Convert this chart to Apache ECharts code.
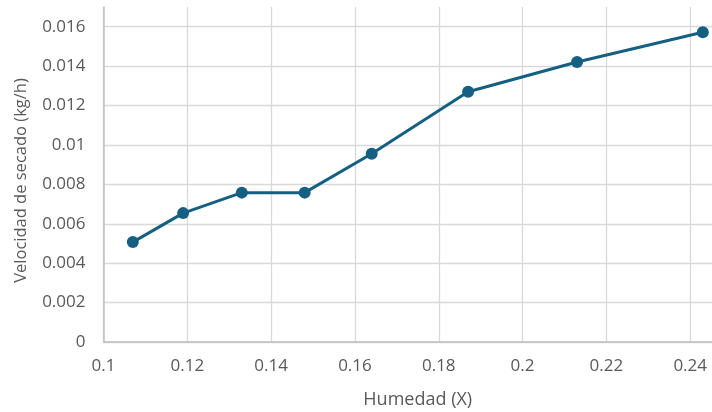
<!DOCTYPE html>
<html>
<head>
<meta charset="utf-8">
<script src="https://cdn.jsdelivr.net/npm/echarts@6/dist/echarts.min.js"></script>
<style>
  html, body { margin: 0; padding: 0; background: #ffffff; }
  #chart { width: 712px; height: 412px; }
</style>
</head>
<body>
<div id="chart"></div>
<script>
// Moisture content (X) and drying rate (kg/h)
const humedad = [0.107, 0.119, 0.133, 0.148, 0.164, 0.187, 0.213, 0.243];
const velocidad = [0.00507, 0.00654, 0.00758, 0.00758, 0.00955, 0.0127, 0.01421, 0.01572];

const xTicks = { min: 0.1, max: 0.2452, step: 0.02 };
const yTicks = { min: 0, max: 0.017, step: 0.002 };

const xTitle = 'Humedad (X)';
const yTitle = 'Velocidad de secado (kg/h)';

const textColor = '#595959';
const fontFamily = '"Open Sans", "Liberation Sans", sans-serif';

const points = humedad.map((x, i) => [x, velocidad[i]]);

const chart = echarts.init(document.getElementById('chart'));
chart.setOption({
  animation: false,
  grid: { left: 103.5, right: 0, top: 7, bottom: 70, containLabel: false, outerBoundsMode: 'none' },
  xAxis: {
    type: 'value',
    min: xTicks.min,
    max: xTicks.max,
    interval: xTicks.step,
    name: xTitle,
    nameLocation: 'middle',
    nameGap: 49,
    nameTextStyle: { color: textColor, fontSize: 18, fontFamily: fontFamily, padding: [0, 0, 0, 20] },
    axisLine: { show: true, lineStyle: { color: '#bfbfbf', width: 1.5 } },
    axisTick: { show: false },
    axisLabel: {
      color: textColor, fontSize: 17, fontFamily: fontFamily, margin: 16,
      showMaxLabel: false,
      formatter: v => String(parseFloat(v.toFixed(4)))
    },
    splitLine: { show: true, showMaxLine: false, lineStyle: { color: '#d9d9d9', width: 1.3 } }
  },
  yAxis: {
    type: 'value',
    min: yTicks.min,
    max: yTicks.max,
    interval: yTicks.step,
    name: yTitle,
    nameLocation: 'middle',
    nameGap: 74,
    nameTextStyle: { color: textColor, fontSize: 16.5, fontFamily: fontFamily, padding: [0, 12, 0, 0] },
    axisLine: { show: true, lineStyle: { color: '#bfbfbf', width: 1.5 } },
    axisTick: { show: false },
    axisLabel: {
      color: textColor, fontSize: 17, fontFamily: fontFamily, margin: 18,
      showMaxLabel: false,
      formatter: v => String(parseFloat(v.toFixed(4)))
    },
    splitLine: { show: true, showMaxLine: false, lineStyle: { color: '#d9d9d9', width: 1.3 } }
  },
  series: [{
    type: 'line',
    data: points,
    symbol: 'circle',
    symbolSize: 12,
    clip: false,
    lineStyle: { color: '#156082', width: 3 },
    itemStyle: { color: '#156082' }
  }]
});
</script>
</body>
</html>
